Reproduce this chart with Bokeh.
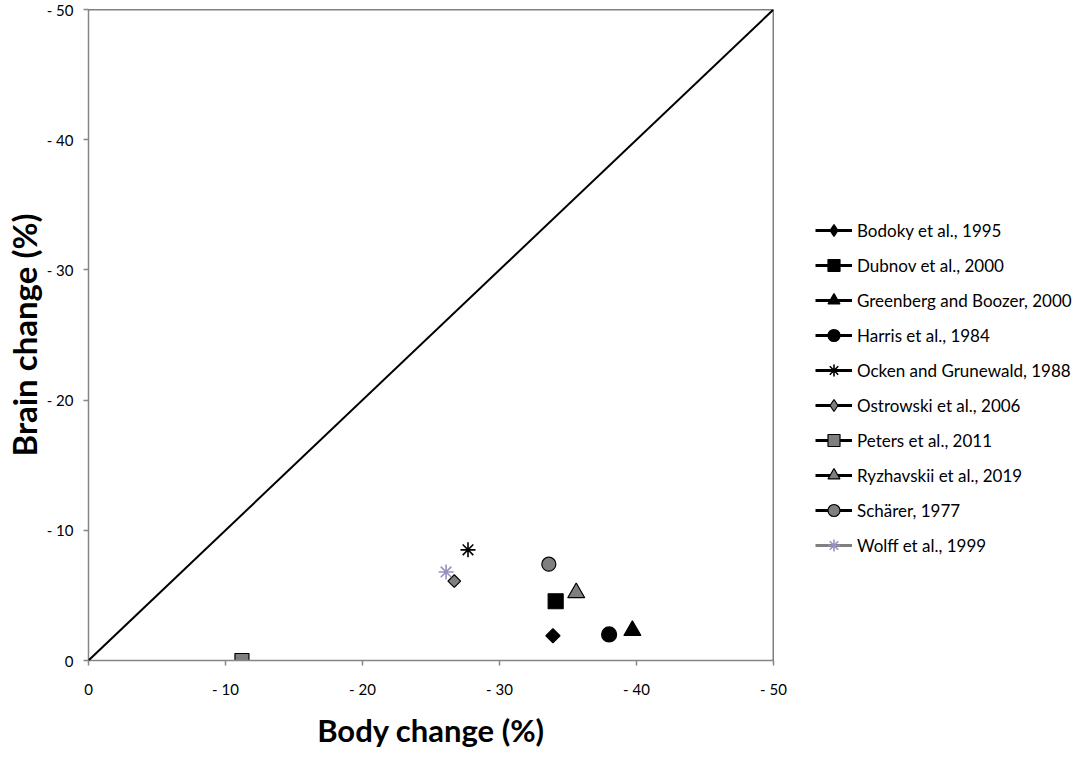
import math
from bokeh.plotting import figure
from bokeh.layouts import row
from bokeh.models import Legend, LegendItem, Range1d, FixedTicker, Slope, Span
from bokeh.embed import file_html
from bokeh.resources import INLINE

studies = ["Bodoky et al., 1995", "Dubnov et al., 2000", "Greenberg and Boozer, 2000",
           "Harris et al., 1984", "Ocken and Grunewald, 1988", "Ostrowski et al., 2006",
           "Peters et al., 2011", "Ryzhavskii et al., 2019", "Schärer, 1977", "Wolff et al., 1999"]
body_change = [33.9, 34.1, 39.7, 38.0, 27.7, 26.7, 11.2, 35.6, 33.6, 26.1]
brain_change = [1.9, 4.55, 2.3, 2.0, 8.5, 6.1, 0.0, 5.2, 7.4, 6.8]
tick_values = [0, 10, 20, 30, 40, 50]
tick_labels = ["0", "- 10", "- 20", "- 30", "- 40", "- 50"]

markers = ["square", "square", "triangle", "circle", "asterisk", "square", "square", "triangle", "circle", "asterisk"]
legend_markers = ["diamond", "square", "triangle", "circle", "asterisk", "diamond", "square", "triangle", "circle", "asterisk"]
angles = [math.pi / 4, 0, 0, 0, 0, math.pi / 4, 0, 0, 0, 0]
sizes = [10, 15, 17, 15, 15, 9, 14, 17, 14, 15]
fills = ["black", "black", "black", "black", "black", "#7f7f7f", "#7f7f7f", "#7f7f7f", "#7f7f7f", "#9a90c0"]
outlines = ["black", "black", "black", "black", "black", "black", "black", "black", "black", "#9a90c0"]
legend_lines = ["black"] * 9 + ["#7f7f7f"]

FONT = "Lato"

p = figure(width=790, height=751, output_backend="svg", toolbar_location=None,
           x_range=Range1d(0, 50), y_range=Range1d(0, 50),
           min_border_left=88, min_border_right=17, min_border_top=9, min_border_bottom=91)
p.grid.visible = False
p.outline_line_color = None
p.background_fill_color = "white"
p.border_fill_color = "white"

for ax in (p.xaxis[0], p.yaxis[0]):
    ax.ticker = FixedTicker(ticks=tick_values)
    ax.major_label_overrides = {v: l for v, l in zip(tick_values, tick_labels)}
    ax.axis_line_color = "#868686"
    ax.axis_line_width = 1.5
    ax.major_tick_line_color = "#868686"
    ax.major_tick_line_width = 1.5
    ax.major_tick_out = 5
    ax.major_tick_in = 0
    ax.minor_tick_line_color = None
    ax.major_label_text_font = FONT
    ax.major_label_text_font_size = "15px"
    ax.major_label_text_color = "black"
    ax.axis_label_text_font = FONT
    ax.axis_label_text_font_style = "bold"
    ax.axis_label_text_color = "black"
p.xaxis.major_label_standoff = 14
p.yaxis.major_label_standoff = 10
p.xaxis.axis_label = "Body change (%)"
p.yaxis.axis_label = "Brain change (%)"
p.xaxis.axis_label_text_font_size = "31px"
p.yaxis.axis_label_text_font_size = "33px"
p.xaxis.axis_label_standoff = 10
p.yaxis.axis_label_standoff = 0

p.add_layout(Span(location=50, dimension="width", line_color="black", line_width=1.5))
p.add_layout(Span(location=50, dimension="height", line_color="black", line_width=1.5))
p.add_layout(Slope(gradient=1, y_intercept=0, line_color="black", line_width=2))

for i, name in enumerate(studies):
    p.scatter(x=[body_change[i]], y=[brain_change[i]], marker=markers[i], size=sizes[i],
              angle=angles[i], fill_color=fills[i], line_color=outlines[i],
              line_width=1.2 if markers[i] != "asterisk" else 1.6)

# legend panel: a second, axis-free figure whose ranges keep its glyphs out of view
q = figure(width=286, height=751, output_backend="svg", toolbar_location=None,
           x_range=Range1d(0, 1), y_range=Range1d(0, 1),
           x_axis_location=None, y_axis_location=None, min_border=0)
q.grid.visible = False
q.outline_line_color = None
q.border_fill_color = "white"

items = []
for i, name in enumerate(studies):
    lr = q.line(x=[body_change[i]], y=[brain_change[i]], line_color=legend_lines[i], line_width=3)
    sr = q.scatter(x=[body_change[i]], y=[brain_change[i]], marker=legend_markers[i], size=sizes[i],
                   fill_color=fills[i], line_color=outlines[i],
                   line_width=1.2 if markers[i] != "asterisk" else 1.6)
    items.append(LegendItem(label=name, renderers=[lr, sr]))

legend = Legend(items=items, location=(25, 100), padding=0, margin=0, spacing=5,
                glyph_width=37, glyph_height=30, label_standoff=5,
                label_text_font=FONT, label_text_font_size="17px", label_text_color="black",
                border_line_color=None, background_fill_alpha=0)
q.add_layout(legend, "center")

layout = row(p, q, spacing=0)
open("out.html", "w").write(file_html(layout, INLINE))
